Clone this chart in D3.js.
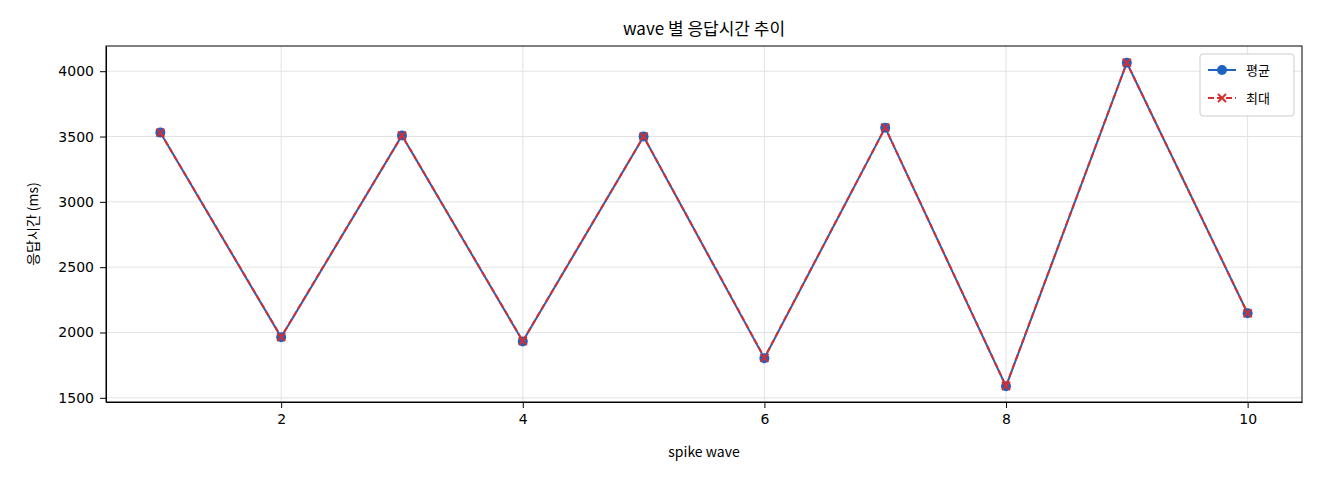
<!DOCTYPE html>
<html><head><meta charset="utf-8">
<script src="https://cdn.jsdelivr.net/npm/d3@7"></script>
<style>
body{margin:0;background:#fff;font-family:"Noto Sans CJK KR","DejaVu Sans",sans-serif;}
</style></head><body>
<svg id="chart" width="1320" height="480"></svg>
<script>
const waves = [1, 2, 3, 4, 5, 6, 7, 8, 9, 10];
const avgMs = [3530, 1963, 3508, 1932, 3500, 1803, 3568, 1588, 4065, 2147];
const maxMs = [3530, 1966, 3508, 1935, 3500, 1806, 3568, 1590, 4065, 2147];
const xTicks = [2, 4, 6, 8, 10];
const yTicks = [1500, 2000, 2500, 3000, 3500, 4000];

const svg = d3.select("#chart");
const L = 106, R = 1302, T = 46, B = 402;
const x = d3.scaleLinear().domain([0.55, 10.45]).range([L, R]);
const y = d3.scaleLinear().domain([1468, 4193]).range([B, T]);

// grid
svg.append("g").selectAll("line").data(xTicks).join("line")
    .attr("x1", d => x(d)).attr("x2", d => x(d)).attr("y1", T).attr("y2", B)
    .attr("stroke", "#e3e3e3");
svg.append("g").selectAll("line").data(yTicks).join("line")
    .attr("x1", L).attr("x2", R).attr("y1", d => y(d)).attr("y2", d => y(d))
    .attr("stroke", "#e3e3e3");

svg.append("g").attr("transform", `translate(0,${B})`)
    .call(d3.axisBottom(x).tickValues(xTicks).tickFormat(d3.format("d")).tickSizeOuter(0).tickPadding(6))
    .attr("font-size", 14).attr("font-family", "DejaVu Sans");
svg.append("g").attr("transform", `translate(${L},0)`)
    .call(d3.axisLeft(y).tickValues(yTicks).tickFormat(d3.format("d")).tickSizeOuter(0).tickPadding(6))
    .attr("font-size", 14).attr("font-family", "DejaVu Sans");
svg.append("rect").attr("x", L).attr("y", T).attr("width", R - L).attr("height", B - T)
    .attr("fill", "none").attr("stroke", "#000");

const line = d3.line().x((d, i) => x(waves[i])).y(d => y(d));
svg.append("path").datum(avgMs).attr("d", line).attr("fill", "none")
    .attr("stroke", "#1f63c2").attr("stroke-width", 2);
svg.append("g").selectAll("circle").data(avgMs).join("circle")
    .attr("cx", (d, i) => x(waves[i])).attr("cy", d => y(d)).attr("r", 5).attr("fill", "#1f63c2");
svg.append("path").datum(maxMs).attr("d", line).attr("fill", "none")
    .attr("stroke", "#d62e2e").attr("stroke-width", 2).attr("stroke-dasharray", "6,3");
const cross = (g, cx, cy) => g.append("path")
    .attr("d", `M${cx-4},${cy-4}L${cx+4},${cy+4}M${cx-4},${cy+4}L${cx+4},${cy-4}`)
    .attr("stroke", "#d62e2e").attr("stroke-width", 2);
const xg = svg.append("g");
maxMs.forEach((d, i) => cross(xg, x(waves[i]), y(d)));

svg.append("text").attr("x", (L + R) / 2).attr("y", 35).attr("text-anchor", "middle")
    .attr("font-size", 17).text("wave 별 응답시간 추이");
svg.append("text").attr("x", (L + R) / 2).attr("y", 457).attr("text-anchor", "middle")
    .attr("font-size", 14).text("spike wave");
svg.append("text").attr("transform", `translate(38,${(T + B) / 2}) rotate(-90)`)
    .attr("text-anchor", "middle").attr("font-size", 14).text("응답시간 (ms)");

// legend
const lg = svg.append("g").attr("transform", "translate(1200,54)");
lg.append("rect").attr("width", 94).attr("height", 62).attr("rx", 3)
    .attr("fill", "#fff").attr("stroke", "#ccc");
lg.append("line").attr("x1", 8).attr("x2", 36).attr("y1", 16).attr("y2", 16)
    .attr("stroke", "#1f63c2").attr("stroke-width", 2);
lg.append("circle").attr("cx", 22).attr("cy", 16).attr("r", 5).attr("fill", "#1f63c2");
lg.append("text").attr("x", 46).attr("y", 21).attr("font-size", 13).text("평균");
lg.append("line").attr("x1", 8).attr("x2", 36).attr("y1", 44).attr("y2", 44)
    .attr("stroke", "#d62e2e").attr("stroke-width", 2).attr("stroke-dasharray", "6,3");
cross(lg, 22, 44);
lg.append("text").attr("x", 46).attr("y", 49).attr("font-size", 13).text("최대");
</script>
</body></html>
